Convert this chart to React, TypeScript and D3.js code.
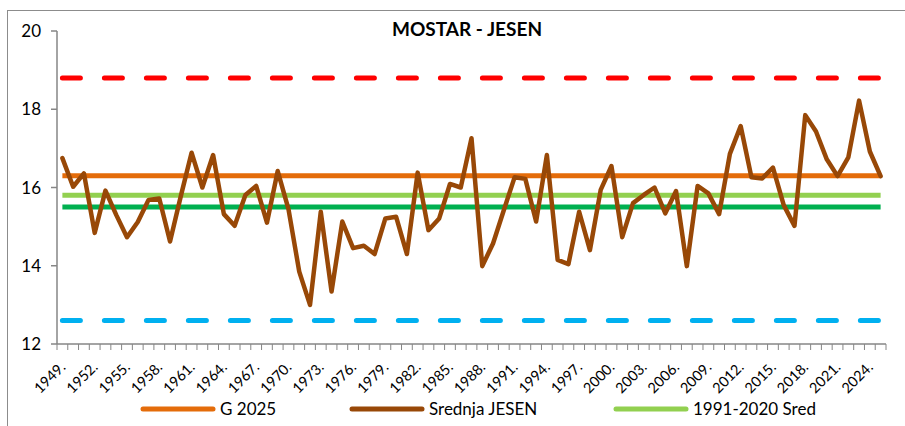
import React from "react";
import * as d3 from "d3";

// godine (kategorije na x osi)
const years = d3.range(1949, 2026);

// srednja jesenja temperatura, Mostar
const srednjaJesen = [
  16.75, 16.02, 16.36, 14.84, 15.92, 15.3, 14.73, 15.12, 15.68, 15.72,
  14.62, 15.78, 16.89, 16.0, 16.83, 15.32, 15.02, 15.81, 16.04, 15.1,
  16.42, 15.45, 13.85, 13.0, 15.38, 13.34, 15.13, 14.45, 14.51, 14.3,
  15.21, 15.25, 14.3, 16.38, 14.91, 15.21, 16.09, 16.0, 17.26, 13.99,
  14.57, 15.42, 16.26, 16.22, 15.13, 16.83, 14.15, 14.04, 15.38, 14.4,
  15.94, 16.55, 14.73, 15.6, 15.81, 16.0, 15.34, 15.91, 13.99, 16.04,
  15.85, 15.32, 16.86, 17.57, 16.26, 16.23, 16.51, 15.55, 15.02, 17.85,
  17.43, 16.72, 16.29, 16.77, 18.22, 16.92, 16.29,
];

// horizontalne linije
const g2025 = 16.3;
const sred19912020 = 15.8;
const sred = 15.5;
const gornjaGranica = 18.8;
const donjaGranica = 12.6;

const yTicks = [12, 14, 16, 18, 20];

const FONT = "Lato, 'Open Sans', sans-serif";

export default function App() {
  const width = 905;
  const height = 426;

  const x = d3.scaleBand<number>().domain(years).range([57, 886]);
  const y = d3.scaleLinear().domain([12, 20]).range([344, 31]);
  const cx = (yr: number) => (x(yr) as number) + x.bandwidth() / 2;

  const line = d3
    .line<number>()
    .x((_, i) => cx(years[i]))
    .y((d) => y(d));

  const x0 = cx(years[0]);
  const x1 = cx(years[years.length - 1]);

  const flat = (v: number, color: string, dashed = false) => (
    <line
      x1={x0}
      x2={x1}
      y1={y(v)}
      y2={y(v)}
      stroke={color}
      strokeWidth={5}
      strokeLinecap={dashed ? "round" : "butt"}
      strokeDasharray={dashed ? "18 24" : undefined}
    />
  );

  const boundaries = d3.range(years.length + 1).map((i) => 57 + i * x.bandwidth());

  const legend = [
    { label: "G 2025", color: "#E46C0A", x: 143 },
    { label: "Srednja JESEN", color: "#984807", x: 352 },
    { label: "1991-2020 Sred", color: "#92D050", x: 616 },
  ];

  return (
    <svg
      width={width}
      height={height}
      style={{ position: "absolute", left: 0, top: 0, background: "#fff" }}
      fontFamily={FONT}
    >
      <rect x={7.5} y={10.5} width={905} height={430} fill="#fff" stroke="#8c8c8c" strokeWidth={1} />

      <text x={467} y={36} textAnchor="middle" fontWeight="bold" fontSize={19} fill="#000">
        MOSTAR - JESEN
      </text>

      {/* y os */}
      <line x1={57} x2={57} y1={y(20)} y2={y(12)} stroke="#868686" strokeWidth={1.5} />
      {yTicks.map((t) => (
        <g key={t}>
          <line x1={51} x2={57} y1={y(t)} y2={y(t)} stroke="#868686" strokeWidth={1.5} />
          <text x={41} y={y(t)} dy="0.36em" textAnchor="end" fontSize={17} fill="#000">
            {t}
          </text>
        </g>
      ))}

      {/* x os */}
      <line x1={57} x2={886} y1={344} y2={344} stroke="#868686" strokeWidth={1.5} />
      {boundaries.map((b, i) => (
        <line key={i} x1={b} x2={b} y1={344} y2={350} stroke="#868686" strokeWidth={1} />
      ))}
      {years
        .filter((_, i) => i % 3 === 0)
        .map((yr) => (
          <text
            key={yr}
            transform={`translate(${cx(yr) + 4},${368}) rotate(-45)`}
            textAnchor="end"
            fontSize={14.5}
            fill="#000"
          >
            {yr}.
          </text>
        ))}

      {flat(gornjaGranica, "#FF0000", true)}
      {flat(donjaGranica, "#00B0F0", true)}
      {flat(g2025, "#E46C0A")}
      {flat(sred19912020, "#92D050")}
      {flat(sred, "#00B050")}

      <path
        d={line(srednjaJesen) ?? ""}
        fill="none"
        stroke="#984807"
        strokeWidth={4.5}
        strokeLinejoin="round"
        strokeLinecap="round"
      />

      {legend.map((l) => (
        <g key={l.label}>
          <line x1={l.x} x2={l.x + 70} y1={409} y2={409} stroke={l.color} strokeWidth={5} strokeLinecap="round" />
          <text x={l.x + 77} y={409} dy="0.36em" fontSize={17} fill="#000">
            {l.label}
          </text>
        </g>
      ))}
    </svg>
  );
}
